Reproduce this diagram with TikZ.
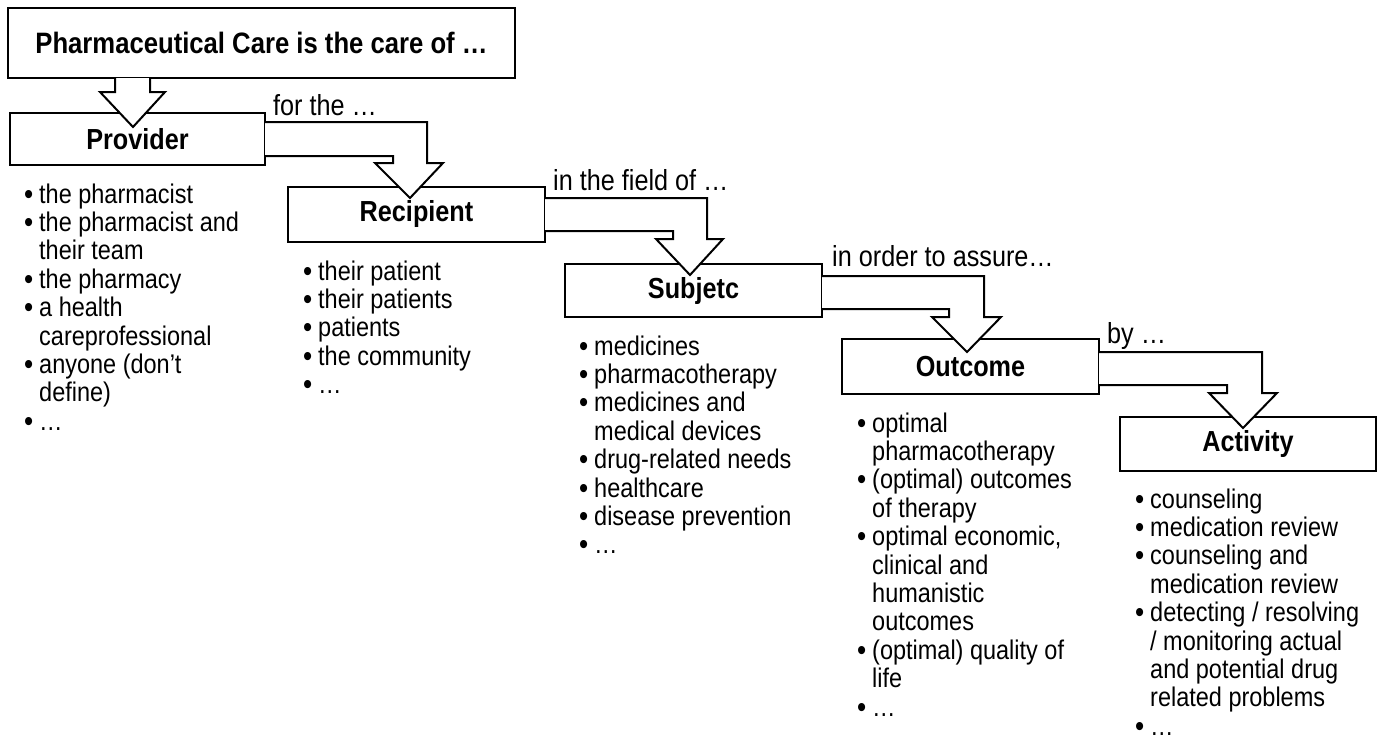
\documentclass[tikz,border=0pt]{standalone}
\usepackage{fontspec}
\usetikzlibrary{calc}
\newfontfamily\lsf{Liberation Sans}[FakeStretch=0.87]
\newcommand{\bodysize}{\fontsize{27pt}{28.4pt}\selectfont}
\newcommand{\blt}{\llap{\fontsize{30pt}{28pt}\selectfont\raisebox{-1pt}{•}\hspace{6pt}}}
\begin{document}
\begin{tikzpicture}[x=1pt,y=-1pt,line join=miter,
  box/.style={draw, line width=2.2pt, fill=white, inner sep=0pt, outer sep=0pt,
    font=\lsf\bfseries\fontsize{29pt}{30pt}\selectfont},
  bigarrow/.style={draw, line width=2pt, fill=white, line join=miter},
  conlabel/.style={anchor=base west, inner sep=0pt, font=\lsf\fontsize{29pt}{30pt}\selectfont},
  itemlist/.style={anchor=base west, inner sep=0pt, font=\lsf\bodysize}]
\fill[white] (0,0) rectangle (1377,736);
\useasboundingbox (0,0) rectangle (1377,736);

% boxes
\node[box, minimum width=507pt, minimum height=70pt, font=\lsf\bfseries\fontsize{29.5pt}{30pt}\selectfont] (title) at (261.5,43) {Pharmaceutical Care is the care of …};
\node[box, minimum width=255pt, minimum height=52pt] (prov) at (137.5,139) {Provider};
\node[box, minimum width=257pt, minimum height=55pt] (rec) at (416.5,214.5) {Recipient};
\node[box, minimum width=257pt, minimum height=53pt] (subj) at (693.5,290.5) {Subjetc};
\node[box, minimum width=257pt, minimum height=55pt] (outc) at (970.5,366.5) {Outcome};
\node[box, minimum width=256pt, minimum height=54pt] (act) at (1248,444) {Activity};

% block arrows
\draw[bigarrow] (title.south -| 115,0) -- (115,92) -- (100,92) -- (133,127) -- (165,92) -- (150,92) -- (title.south -| 150,0);
\draw[bigarrow] (prov.east |- 0,122) -- (427,122) -- (427,163) -- (443,163) -- (410,198) -- (375,163) -- (393,163) -- (393,156) -- (prov.east |- 0,156);
\draw[bigarrow] (rec.east |- 0,198) -- (707,198) -- (707,239) -- (723,239) -- (690,275) -- (656,239) -- (673,239) -- (673,231) -- (rec.east |- 0,231);
\draw[bigarrow] (subj.east |- 0,276) -- (984,276) -- (984,317) -- (1001,317) -- (967,352) -- (932,317) -- (949,317) -- (949,309) -- (subj.east |- 0,309);
\draw[bigarrow] (outc.east |- 0,352) -- (1262,352) -- (1262,393) -- (1277,393) -- (1243,428) -- (1209,393) -- (1227,393) -- (1227,385) -- (outc.east |- 0,385);

% connector labels
\node[conlabel] (l1) at (273,115) {for the …};
\node[conlabel] (l2) at (553,190) {in the field of …};
\node[conlabel] (l3) at (832,266) {in order to assure…};
\node[conlabel] (l4) at (1107,343) {by …};

% lists
\node[itemlist] (provlist) at (39,203) {\begin{tabular}[t]{@{}l@{}}
\blt the pharmacist\\
\blt the pharmacist and\\
their team\\
\blt the pharmacy\\
\blt a health\\
careprofessional\\
\blt anyone (don’t\\
define)\\
\blt …
\end{tabular}};

\node[itemlist] (reclist) at (318,280) {\begin{tabular}[t]{@{}l@{}}
\blt their patient\\
\blt their patients\\
\blt patients\\
\blt the community\\
\blt …
\end{tabular}};

\node[itemlist] (subjlist) at (594,355) {\begin{tabular}[t]{@{}l@{}}
\blt medicines\\
\blt pharmacotherapy\\
\blt medicines and\\
medical devices\\
\blt drug-related needs\\
\blt healthcare\\
\blt disease prevention\\
\blt …
\end{tabular}};

\node[itemlist] (outclist) at (872,432) {\begin{tabular}[t]{@{}l@{}}
\blt optimal\\
pharmacotherapy\\
\blt (optimal) outcomes\\
of therapy\\
\blt optimal economic,\\
clinical and\\
humanistic\\
outcomes\\
\blt (optimal) quality of\\
life\\
\blt …
\end{tabular}};

\node[itemlist] (actlist) at (1150,508) {\begin{tabular}[t]{@{}l@{}}
\blt counseling\\
\blt medication review\\
\blt counseling and\\
medication review\\
\blt detecting / resolving\\
/ monitoring actual\\
and potential drug\\
related problems\\
\blt …
\end{tabular}};
\end{tikzpicture}
\end{document}
